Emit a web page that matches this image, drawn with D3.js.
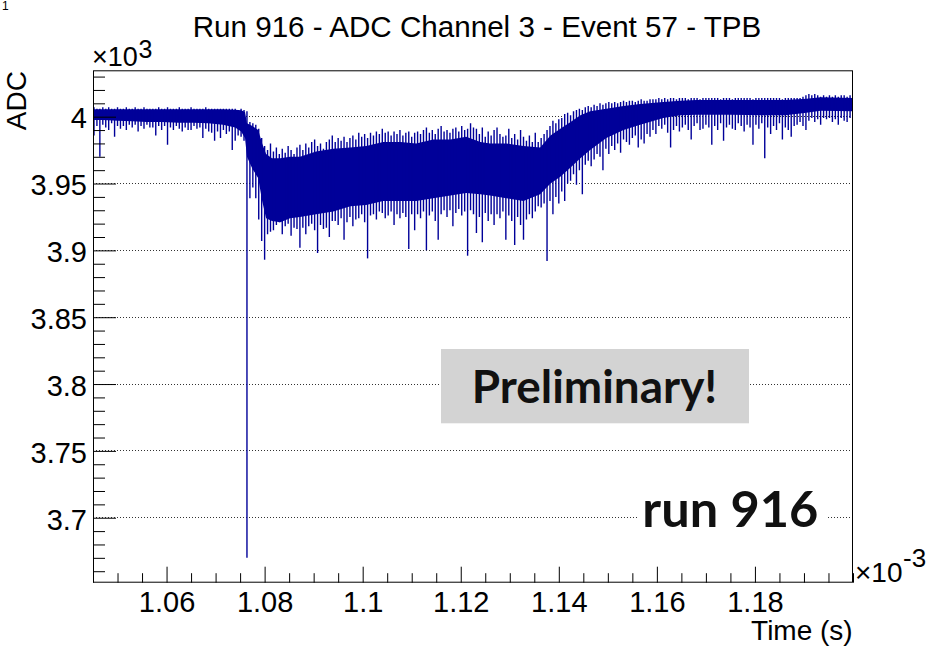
<!DOCTYPE html>
<html>
<head>
<meta charset="utf-8">
<script src="https://cdn.jsdelivr.net/npm/d3@7"></script>
<style>
  html, body { margin: 0; padding: 0; background: #fff; }
  svg { display: block; }
</style>
</head>
<body>
<svg id="chart" width="947" height="652"></svg>
<script>
// ---- Waveform: ADC channel 3, event 57 (time in units of 1e-3 s) ----
// Dense core of the trace: upper and lower edge at each knot
const knotTime = [1.0450,1.0470,1.0500,1.0530,1.0560,1.0590,1.0625,1.0655,1.0685,1.0715,
  1.0740,1.0752,1.0760,1.0764,1.0775,1.0787,1.0795,1.0803,1.0815,1.0832,
  1.0852,1.0872,1.0905,1.0940,1.0975,1.1007,1.1042,1.1077,1.1109,1.1144,
  1.1179,1.1211,1.1240,1.1260,1.1293,1.1328,1.1362,1.1383,1.1403,1.1424,
  1.1444,1.1464,1.1497,1.1532,1.1566,1.1613,1.1648,1.1681,1.1750,1.1817,
  1.1862,1.1905,1.1934,1.2000];
const coreHigh = [4005.5,4005.5,4005.5,4005.5,4005.5,4005.5,4005.5,4005.5,4005.5,4005.5,
  4005.2,4004.8,4003.5,3995,3993,3990,3980,3972,3969,3969,
  3970,3970,3974,3976,3977,3978,3981,3981,3980,3983,
  3983,3985,3981,3980,3980,3978,3977,3986,3991,3996,
  4001,4004,4006,4008,4009.5,4011,4012,4012.5,4012.5,4012.5,
  4012.5,4013.5,4014.5,4014];
const coreLow = [3997.5,3997.5,3997,3996.5,3996,3996,3995.5,3995.5,3995,3994,
  3992,3989,3984,3970,3961,3954,3937,3924,3922,3921,
  3924,3925,3927,3929,3933,3934,3937,3937,3937,3939,
  3941,3943,3942,3941,3939,3937,3942,3950,3955,3962,
  3969,3975,3984,3990,3994,3999,4001,4001.5,4001.5,4001,
  4001,4003,4004.5,4004];

// Per-bin extremes of the sampled signal (bins of 0.0006e-3 s)
const sampleTime = [
  1.0452,1.0458,1.0464,1.0470,1.0476,1.0482,1.0488,1.0494,1.0500,1.0506,
  1.0512,1.0518,1.0524,1.0530,1.0536,1.0542,1.0548,1.0554,1.0560,1.0566,
  1.0572,1.0578,1.0584,1.0590,1.0596,1.0602,1.0608,1.0614,1.0620,1.0626,
  1.0632,1.0638,1.0644,1.0650,1.0656,1.0662,1.0668,1.0674,1.0680,1.0686,
  1.0692,1.0698,1.0704,1.0710,1.0716,1.0722,1.0728,1.0734,1.0740,1.0746,
  1.0752,1.0758,1.0764,1.0770,1.0776,1.0782,1.0788,1.0794,1.0800,1.0806,
  1.0812,1.0818,1.0824,1.0830,1.0836,1.0842,1.0848,1.0854,1.0860,1.0866,
  1.0872,1.0878,1.0884,1.0890,1.0896,1.0902,1.0908,1.0914,1.0920,1.0926,
  1.0932,1.0938,1.0944,1.0950,1.0956,1.0962,1.0968,1.0974,1.0980,1.0986,
  1.0992,1.0998,1.1004,1.1010,1.1016,1.1022,1.1028,1.1034,1.1040,1.1046,
  1.1052,1.1058,1.1064,1.1070,1.1076,1.1082,1.1088,1.1094,1.1100,1.1106,
  1.1112,1.1118,1.1124,1.1130,1.1136,1.1142,1.1148,1.1154,1.1160,1.1166,
  1.1172,1.1178,1.1184,1.1190,1.1196,1.1202,1.1208,1.1214,1.1220,1.1226,
  1.1232,1.1238,1.1244,1.1250,1.1256,1.1262,1.1268,1.1274,1.1280,1.1286,
  1.1292,1.1298,1.1304,1.1310,1.1316,1.1322,1.1328,1.1334,1.1340,1.1346,
  1.1352,1.1358,1.1364,1.1370,1.1376,1.1382,1.1388,1.1394,1.1400,1.1406,
  1.1412,1.1418,1.1424,1.1430,1.1436,1.1442,1.1448,1.1454,1.1460,1.1466,
  1.1472,1.1478,1.1484,1.1490,1.1496,1.1502,1.1508,1.1514,1.1520,1.1526,
  1.1532,1.1538,1.1544,1.1550,1.1556,1.1562,1.1568,1.1574,1.1580,1.1586,
  1.1592,1.1598,1.1604,1.1610,1.1616,1.1622,1.1628,1.1634,1.1640,1.1646,
  1.1652,1.1658,1.1664,1.1670,1.1676,1.1682,1.1688,1.1694,1.1700,1.1706,
  1.1712,1.1718,1.1724,1.1730,1.1736,1.1742,1.1748,1.1754,1.1760,1.1766,
  1.1772,1.1778,1.1784,1.1790,1.1796,1.1802,1.1808,1.1814,1.1820,1.1826,
  1.1832,1.1838,1.1844,1.1850,1.1856,1.1862,1.1868,1.1874,1.1880,1.1886,
  1.1892,1.1898,1.1904,1.1910,1.1916,1.1922,1.1928,1.1934,1.1940,1.1946,
  1.1952,1.1958,1.1964,1.1970,1.1976,1.1982,1.1988,1.1994];
const sampleMax = [
  4007,4006,4006,4007,4006,4007,4006,4006,4007,4006,
  4006,4007,4006,4006,4007,4006,4006,4007,4006,4006,
  4006,4006,4007,4006,4006,4007,4006,4006,4006,4007,
  4006,4006,4006,4007,4006,4006,4006,4006,4007,4006,
  4006,4006,4006,4006,4006,4006,4006,4006,4006,4005,
  4006,4005,4004,3996,3995,3994,3991,3984,3978,3975,
  3980,3974,3977,3972,3976,3973,3978,3975,3972,3977,
  3979,3975,3980,3977,3981,3983,3978,3980,3976,3981,
  3983,3986,3981,3984,3982,3985,3981,3984,3986,3983,
  3988,3985,3987,3984,3988,3986,3989,3987,3991,3988,
  3989,3986,3989,3987,3990,3986,3988,3989,3985,3988,
  3989,3987,3990,3992,3988,3990,3987,3991,3993,3989,
  3990,3988,3991,3992,3989,3993,3990,3991,3995,3992,
  3991,3987,3992,3985,3989,3986,3990,3992,3987,3985,
  3986,3991,3984,3987,3983,3990,3985,3982,3986,3981,
  3988,3981,3984,3987,3990,3993,3997,3995,3998,3999,
  4002,4003,4001,4004,4005,4006,4005,4007,4008,4007,
  4009,4008,4010,4009,4010,4011,4010,4011,4010,4011,
  4012,4011,4012,4012,4011,4012,4013,4012,4012,4013,
  4013,4013,4014,4013,4014,4013,4014,4014,4013,4014,
  4014,4014,4013,4014,4014,4014,4013,4014,4014,4014,
  4014,4014,4014,4013,4014,4014,4014,4013,4014,4014,
  4014,4014,4014,4014,4013,4014,4014,4014,4014,4014,
  4014,4014,4014,4014,4013,4014,4014,4014,4014,4014,
  4014,4015,4016,4017,4016,4017,4016,4015,4016,4015,
  4016,4015,4016,4015,4016,4016,4015,4016];
const sampleMin = [
  3986,3993,3970,3994,3992,3990,3995,3985,3993,3991,
  3993,3990,3994,3992,3994,3989,3993,3991,3994,3992,
  3992,3986,3993,3990,3993,3979,3992,3990,3993,3991,
  3989,3992,3990,3990,3993,3991,3992,3984,3991,3989,
  3988,3982,3989,3984,3990,3987,3989,3975,3982,3986,
  3985,3982,3670,3939,3947,3939,3923,3907,3893,3912,
  3914,3915,3919,3921,3912,3918,3920,3911,3917,3916,
  3902,3917,3912,3918,3920,3915,3898,3919,3916,3917,
  3910,3922,3922,3919,3924,3908,3921,3925,3918,3923,
  3924,3927,3921,3894,3926,3927,3923,3929,3928,3924,
  3926,3929,3919,3927,3924,3928,3925,3901,3927,3915,
  3927,3924,3929,3900,3926,3929,3922,3908,3927,3930,
  3925,3930,3918,3928,3931,3926,3929,3896,3930,3927,
  3913,3925,3906,3928,3922,3927,3919,3927,3924,3929,
  3908,3926,3922,3904,3925,3919,3908,3923,3927,3924,
  3929,3933,3932,3935,3892,3937,3927,3940,3935,3944,
  3937,3950,3952,3957,3949,3960,3942,3964,3967,3963,
  3968,3972,3970,3960,3976,3972,3978,3975,3980,3973,
  3983,3981,3979,3984,3986,3977,3983,3980,3987,3985,
  3990,3987,3993,3991,3994,3988,3977,3990,3993,3989,
  3992,3994,3990,3983,3993,3995,3990,3991,3994,3992,
  3979,3993,3990,3995,3982,3992,3994,3991,3990,3995,
  3993,3989,3994,3992,3979,3994,3991,3995,3969,3992,
  3987,3993,3990,3995,3983,3992,3990,3985,3993,3994,
  3996,3993,3990,3997,3999,3996,3998,3994,3999,3998,
  3999,3996,3998,3994,3999,3997,3996,3999];

// ---- Axes ----
const timeRange = [1.045, 1.2];
const adcRange = [3651.4, 4034.7];
const xTickValues = [1.06, 1.08, 1.10, 1.12, 1.14, 1.16, 1.18];
const xTickLabels = ["1.06", "1.08", "1.1", "1.12", "1.14", "1.16", "1.18"];
const yTickValues = [3700, 3750, 3800, 3850, 3900, 3950, 4000];
const yTickLabels = ["3.7", "3.75", "3.8", "3.85", "3.9", "3.95", "4"];

const titleText = "Run 916 - ADC Channel 3 - Event 57 - TPB";
const xTitle = "Time (s)";
const yTitle = "ADC";
const stampText = "Preliminary!";
const runText = "run 916";

// ---- Layout ----
const frame = { left: 93, right: 853, top: 70.3, bottom: 582.7 };
const axisFont = '"Liberation Sans", Arial, Helvetica, sans-serif';
const stampFont = 'Lato, "Open Sans", sans-serif';
const traceColor = "#000099";

const svg = d3.select("#chart");
svg.append("rect").attr("width", 947).attr("height", 652).attr("fill", "#fff");

const x = d3.scaleLinear().domain(timeRange).range([frame.left, frame.right]);
const y = d3.scaleLinear().domain(adcRange).range([frame.bottom, frame.top]);

svg.append("clipPath").attr("id", "plotClip")
  .append("rect")
  .attr("x", frame.left).attr("y", frame.top)
  .attr("width", frame.right - frame.left).attr("height", frame.bottom - frame.top);

// Horizontal dotted grid at the major ADC ticks
svg.append("g")
  .selectAll("line")
  .data(yTickValues)
  .join("line")
  .attr("x1", frame.left).attr("x2", frame.right)
  .attr("y1", d => Math.floor(y(d)) + 0.5)
  .attr("y2", d => Math.floor(y(d)) + 0.5)
  .attr("stroke", "#333")
  .attr("stroke-width", 1)
  .attr("stroke-dasharray", "1,2");

// Trace: filled core plus one vertical stroke per sampling bin
const trace = svg.append("g").attr("clip-path", "url(#plotClip)");
const core = knotTime.map((t, i) => ({ t, hi: coreHigh[i], lo: coreLow[i] }));

trace.append("path")
  .datum(core)
  .attr("fill", traceColor)
  .attr("d", d3.area()
    .x(d => x(d.t))
    .y0(d => y(d.lo))
    .y1(d => y(d.hi)));

const bins = sampleTime.map((t, i) => ({ t, hi: sampleMax[i], lo: sampleMin[i] }));
trace.append("g")
  .selectAll("line")
  .data(bins)
  .join("line")
  .attr("x1", d => x(d.t)).attr("x2", d => x(d.t))
  .attr("y1", d => y(d.hi)).attr("y2", d => y(d.lo))
  .attr("stroke", traceColor)
  .attr("stroke-width", 1.4);

// Frame
svg.append("rect")
  .attr("x", frame.left + 0.5).attr("y", frame.top + 0.5)
  .attr("width", frame.right - frame.left - 1)
  .attr("height", frame.bottom - frame.top - 1)
  .attr("fill", "none")
  .attr("stroke", "#000")
  .attr("stroke-width", 1);

// Y axis: ticks pointing into the frame
const yAxis = svg.append("g")
  .attr("transform", `translate(${frame.left},0)`)
  .call(d3.axisLeft(y)
    .tickValues(yTickValues)
    .tickFormat((d, i) => yTickLabels[i])
    .tickSize(-23)
    .tickPadding(6));
yAxis.select(".domain").remove();
yAxis.attr("font-family", axisFont).attr("font-size", 29);
yAxis.selectAll("line").attr("stroke", "#000");
yAxis.selectAll("text").attr("fill", "#000").attr("dy", "0.39em");

const yMinor = d3.range(366, 404).map(k => k * 10).filter(v => v % 50 !== 0);
svg.append("g")
  .attr("transform", `translate(${frame.left},0)`)
  .call(d3.axisLeft(y).tickValues(yMinor).tickFormat("").tickSize(-12))
  .call(g => g.select(".domain").remove())
  .call(g => g.selectAll("line").attr("stroke", "#000"));

// X axis: ticks pointing up into the frame
const xAxis = svg.append("g")
  .attr("transform", `translate(0,${frame.bottom})`)
  .call(d3.axisBottom(x)
    .tickValues(xTickValues)
    .tickFormat((d, i) => xTickLabels[i])
    .tickSize(-16)
    .tickPadding(8.4));
xAxis.select(".domain").remove();
xAxis.attr("font-family", axisFont).attr("font-size", 29);
xAxis.selectAll("line").attr("stroke", "#000");
xAxis.selectAll("text").attr("fill", "#000");

const xMinor = d3.range(209, 241).map(k => k * 0.005)
  .filter(v => !xTickValues.some(m => Math.abs(m - v) < 1e-6));
svg.append("g")
  .attr("transform", `translate(0,${frame.bottom})`)
  .call(d3.axisBottom(x).tickValues(xMinor).tickFormat("").tickSize(-9.5))
  .call(g => g.select(".domain").remove())
  .call(g => g.selectAll("line").attr("stroke", "#000"));

// Titles
const txt = (s, px, py, size, anchor) => svg.append("text")
  .attr("x", px).attr("y", py)
  .attr("font-family", axisFont)
  .attr("font-size", size)
  .attr("text-anchor", anchor || "start")
  .attr("fill", "#000")
  .text(s);

txt(titleText, 477, 36.5, 29.6, "middle");
txt(xTitle, 852.7, 640, 28, "end");
svg.append("text")
  .attr("transform", "translate(25.5,71) rotate(-90)")
  .attr("font-family", axisFont).attr("font-size", 28)
  .attr("text-anchor", "end").attr("fill", "#000")
  .text(yTitle);

// Axis multipliers
txt("\u00d710", 92, 65.5, 27);
txt("3", 138.5, 57.5, 25);
txt("\u00d710", 855, 581.7, 28);
txt("-3", 903, 567, 26);
txt("1", 2, 9.5, 12);

// Stamp boxes
svg.append("rect")
  .attr("x", 441).attr("y", 349).attr("width", 308).attr("height", 74.3)
  .attr("fill", "#d3d3d3");
const stamp = svg.append("text")
  .attr("x", 594.5).attr("y", 403.3)
  .attr("text-anchor", "middle")
  .attr("font-family", stampFont).attr("font-weight", 700)
  .attr("font-size", 44).attr("fill", "#111")
  .text(stampText);
const sw = stamp.node().getComputedTextLength();
stamp.attr("font-size", 44 * 245.6 / sw);

svg.append("rect")
  .attr("x", 637).attr("y", 492).attr("width", 189).attr("height", 46)
  .attr("fill", "#fff");
const run = svg.append("text")
  .attr("x", 730.3).attr("y", 527.3)
  .attr("text-anchor", "middle")
  .attr("font-family", stampFont).attr("font-weight", 700)
  .attr("font-size", 37).attr("fill", "#111")
  .text(runText);
const rw = run.node().getComputedTextLength();
run.attr("font-size", 37 * 176 / rw);
</script>
</body>
</html>
